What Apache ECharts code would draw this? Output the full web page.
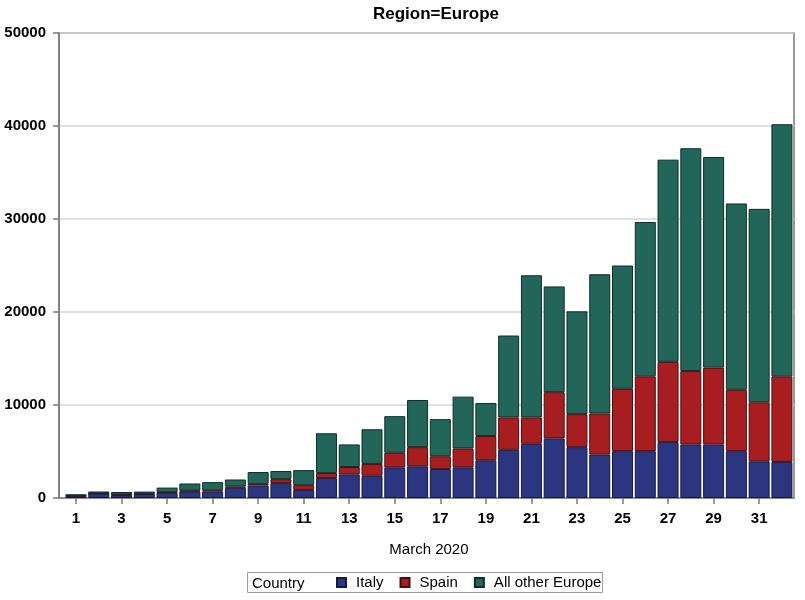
<!DOCTYPE html>
<html>
<head>
<meta charset="utf-8">
<script src="https://cdn.jsdelivr.net/npm/echarts@6/dist/echarts.min.js"></script>
<style>
html,body{margin:0;padding:0;background:#fff;}
#chart{width:805px;height:600px;}
</style>
</head>
<body>
<div id="chart"></div>
<script>
var days = ['1','2','3','4','5','6','7','8','9','10','11','12','13','14','15','16','17','18','19','20','21','22','23','24','25','26','27','28','29','30','31','32'];
var italy = [240,480,330,430,560,720,700,1100,1340,1600,870,2140,2540,2390,3300,3410,3110,3300,4060,5180,5830,6410,5470,4670,5040,5040,6010,5760,5760,5040,3950,3880];
var spain = [0,20,50,40,70,70,130,140,180,430,510,540,790,1270,1560,2060,1380,2030,2610,3480,2830,4970,3550,4420,6700,8040,8630,7900,8260,6590,6340,9200];
var other = [160,200,270,220,490,770,880,750,1270,870,1620,4280,2430,3730,3940,5070,3990,5570,3550,8810,15290,11370,11050,14970,13260,16600,21740,23950,22650,20040,20800,27110];
var seriesNames = ['Italy','Spain','All other Europe'];
var yMax = 50000, yStep = 10000;

var colors = ['#2C3580','#A81D1F','#22665A'];
var borders = ['#141a45','#4a0e0e','#0d2e27'];
var font = 'Liberation Sans, Arial, sans-serif';
var axisGray = '#7a7a7a';

var chart = echarts.init(document.getElementById('chart'), null, {renderer:'canvas'});
var dataSets = [italy, spain, other];
var series = seriesNames.map(function(n,k){
  return {
    name: n, type: 'bar', stack: 'total', barWidth: 21,
    xAxisIndex: 1, yAxisIndex: 1,
    data: dataSets[k],
    itemStyle: {color: colors[k], borderColor: borders[k], borderWidth: 1},
    emphasis: {disabled: true}
  };
});

chart.setOption({
  animation: false,
  backgroundColor: '#fff',
  title: {
    text: 'Region=Europe', left: 431, textAlign: 'center', top: 1,
    textStyle: {fontFamily: font, fontSize: 17, fontWeight: 'bold', color: '#000'}
  },
  grid: [
    {left: 59, right: 11, top: 33, bottom: 102, show: true, borderColor: axisGray, borderWidth: 1.5},
    {left: 64.6, right: 11.7, top: 33, bottom: 102}
  ],
  xAxis: [
    {
      gridIndex: 0, type: 'value', min: 0, max: 1,
      axisLine: {show: true, lineStyle: {color: axisGray, width: 1.5}},
      axisTick: {show: false}, axisLabel: {show: false}, splitLine: {show: false}
    },
    {
      gridIndex: 1, type: 'category', data: days, boundaryGap: true,
      name: 'March 2020', nameLocation: 'middle', nameGap: 44,
      nameTextStyle: {fontFamily: font, fontSize: 15, color: '#000'},
      axisLine: {show: false},
      axisTick: {show: true, alignWithLabel: true, interval: 1, length: 6, lineStyle: {color: axisGray, width: 1.5}},
      axisLabel: {interval: 1, fontFamily: font, fontSize: 15, fontWeight: 'bold', color: '#000', margin: 13},
      splitLine: {show: false}
    }
  ],
  yAxis: [
    {
      gridIndex: 0, type: 'value', min: 0, max: yMax, interval: yStep,
      axisLine: {show: true, lineStyle: {color: axisGray, width: 1.5}},
      axisTick: {show: true, length: 6, lineStyle: {color: axisGray, width: 1.5}},
      axisLabel: {fontFamily: font, fontSize: 15, fontWeight: 'bold', color: '#000', margin: 13,
        formatter: function(v){ return String(v); }},
      splitLine: {show: true, lineStyle: {color: '#d4d4d4', width: 1.5}}
    },
    {
      gridIndex: 1, type: 'value', min: 0, max: yMax, interval: yStep,
      axisLine: {show: false}, axisTick: {show: false}, axisLabel: {show: false}, splitLine: {show: false}
    }
  ],
  legend: {
    data: seriesNames, left: 331, top: 570, itemWidth: 9, itemHeight: 9, itemGap: 16,
    icon: 'rect',
    textStyle: {fontFamily: font, fontSize: 15, color: '#000', padding: [0,0,0,5]}
  },
  graphic: [
    {type: 'rect', shape: {x: 247.5, y: 572.5, width: 355, height: 20}, style: {fill: 'none', stroke: '#9a9a9a', lineWidth: 1}},
    {type: 'text', x: 252, y: 584, style: {text: 'Country', font: '15px ' + font, fill: '#000', verticalAlign: 'middle'}}
  ],
  series: series
});
</script>
</body>
</html>
